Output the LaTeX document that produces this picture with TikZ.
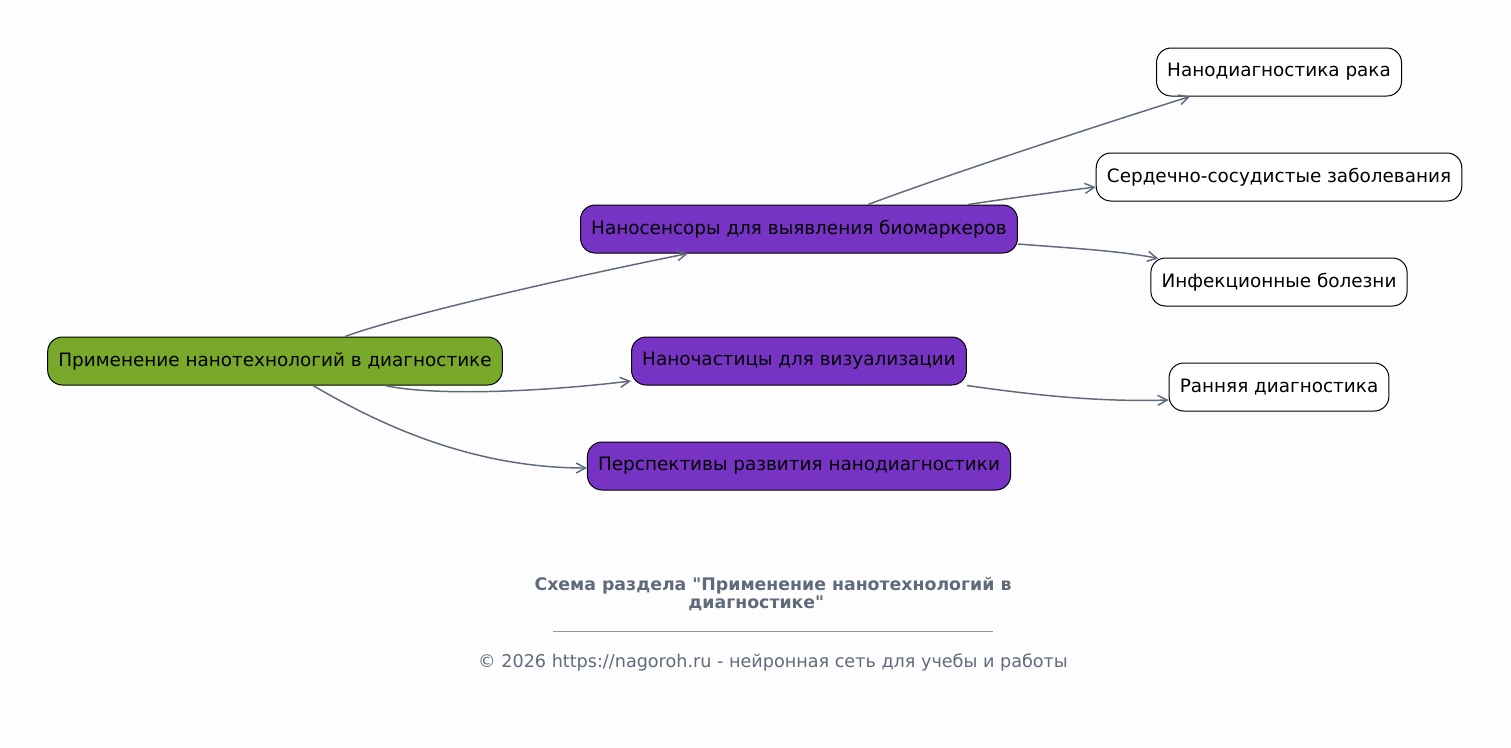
\documentclass[tikz,border=0pt]{standalone}
\usepackage{fontspec}
\setmainfont{DejaVu Sans}[Ligatures=TeXOff]
\usetikzlibrary{calc,arrows.meta}
\definecolor{rootgreen}{HTML}{79A92A}
\definecolor{subviolet}{HTML}{7734C4}
\definecolor{edgegray}{HTML}{5F6B7A}
\definecolor{pagewhite}{HTML}{FDFDFD}
\begin{document}
\begin{tikzpicture}[x=0.75pt,y=-0.75pt,
  box/.style={draw=black,line width=0.75pt,rounded corners=11pt,minimum height=36pt,
    inner xsep=8pt,font=\fontsize{13.8}{16}\selectfont},
  rootbox/.style={box,fill=rootgreen},
  midbox/.style={box,fill=subviolet},
  leafbox/.style={box,fill=white},
  link/.style={-{Straight Barb[length=7pt,width=7.5pt]},draw=edgegray,line width=1.1pt}]
        \fill[pagewhite] (0,0) rectangle (1511,747);
        \useasboundingbox (0,0) rectangle (1511,747);
        % nodes
        \node[rootbox] (root) at (275,361) {Применение нанотехнологий в диагностике};
        \node[midbox] (sensors) at (799,229) {Наносенсоры для выявления биомаркеров};
        \node[midbox] (imaging) at (799,361) {Наночастицы для визуализации};
        \node[midbox] (outlook) at (799,466) {Перспективы развития нанодиагностики};
        \node[leafbox] (cancer) at (1279,72) {Нанодиагностика рака};
        \node[leafbox] (cardio) at (1279,177) {Сердечно-сосудистые заболевания};
        \node[leafbox] (infect) at (1279,282) {Инфекционные болезни};
        \node[leafbox] (early) at (1279,387) {Ранняя диагностика};
        % links
        \draw[link] ($(root.north)+(70,0)$) .. controls +(60,-22) and +(-110,22) .. ($(sensors.south)+(-111,0)$);
        \draw[link] ($(root.south)+(110,0)$) .. controls +(45,10) and +(-100,12) .. ($(imaging.west)+(0,20)$);
        \draw[link] ($(root.south)+(38,0)$) .. controls +(60,35) and +(-120,0) .. ($(outlook.west)+(0,2)$);
        \draw[link] ($(sensors.north)+(69,0)$) .. controls +(80,-30) and +(-80,25) .. ($(cancer.south)+(-89,0)$);
        \draw[link] ($(sensors.north)+(169,0)$) .. controls +(40,-6) and +(-40,5) .. ($(cardio.west)+(0,10)$);
        \draw[link] ($(sensors.east)+(0,15)$) .. controls +(50,4) and +(-40,-8) .. ($(infect.north west)+(8,1)$);
        \draw[link] (imaging.south east) .. controls +(70,10) and +(-70,2) .. ($(early.west)+(0,13)$);
        % footer
        \node[text=edgegray,font=\bfseries\fontsize{13}{13.5}\selectfont,align=center] (caption) at (773,594)
          {Схема раздела "Применение нанотехнологий в\\диагностике"\hspace*{25pt}};
        \draw[edgegray!70,line width=0.5pt] (553,631) -- (993,631);
        \node[text=edgegray,font=\fontsize{13.2}{15}\selectfont] (credit) at (773,662)
          {© 2026 https://nagoroh.ru - нейронная сеть для учебы и работы};
\end{tikzpicture}
\end{document}
